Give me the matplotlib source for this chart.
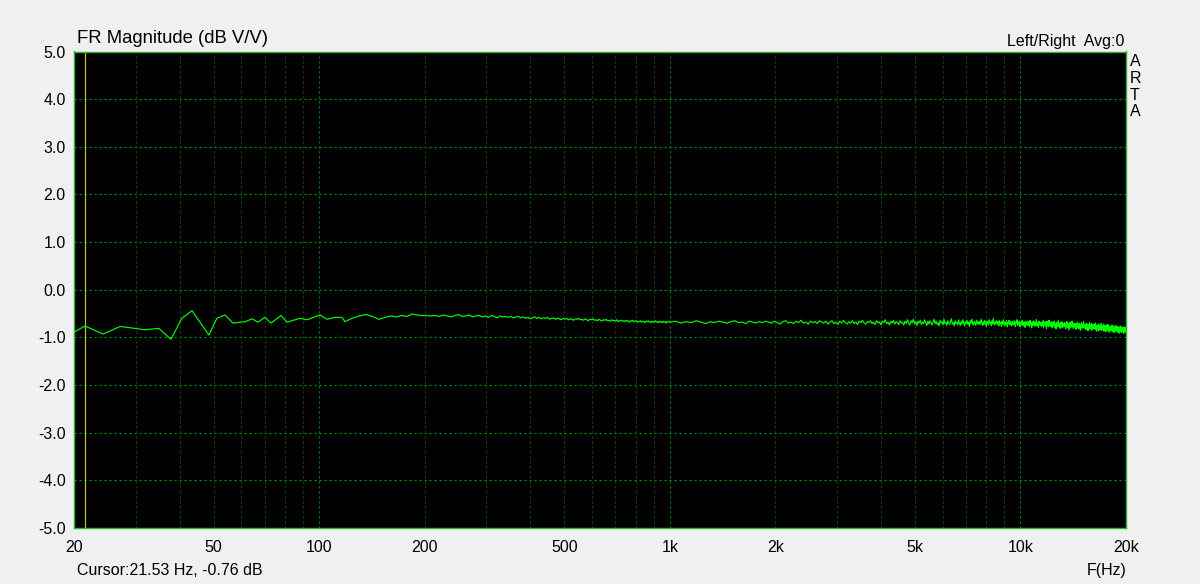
import numpy as np
import matplotlib
matplotlib.use("Agg")
import matplotlib.pyplot as plt
from matplotlib.ticker import FixedLocator, NullFormatter, FixedFormatter

# ---------------- data ----------------
# low-frequency part: individual readable points (Hz, dB)
lo_freq = [20.0, 21.5, 24.2, 27.1, 31.9, 34.9, 37.8, 40.6, 43.4, 48.5, 51.1, 53.9,
           56.8, 61.5, 64.4, 66.9, 70.1, 72.9, 77.9, 81.0, 88.2, 92.3, 100.6,
           105.3, 111.0, 116.2, 118.5, 124.1]
lo_db = [-0.89, -0.76, -0.93, -0.77, -0.84, -0.81, -1.04, -0.60, -0.44, -0.95,
         -0.60, -0.53, -0.70, -0.67, -0.61, -0.68, -0.58, -0.70, -0.54, -0.68,
         -0.60, -0.63, -0.53, -0.62, -0.58, -0.58, -0.67, -0.60]

# mid part: 130 Hz .. ~1 kHz, 6 Hz bins, values in 0.01 dB
mid_start, mid_step = 130.0, 6.0
mid_cdb = [-55, -52, -56, -62, -58, -55, -57, -54, -56, -51, -53, -54, -54, -55, -54,
           -56, -53, -55, -57, -54, -52, -56, -55, -53, -57, -55, -54, -57, -55, -58,
           -54, -56, -59, -55, -57, -56, -58, -56, -59, -57, -56, -59, -57, -60, -58,
           -61, -59, -57, -60, -58, -61, -59, -60, -58, -62, -60, -59, -62, -60, -61,
           -63, -60,
           -62, -60, -63, -61, -62, -64, -61, -62, -60, -63, -62, -64, -61, -63, -65,
           -62, -63, -61, -64, -63, -65, -62, -64, -66, -63, -64, -62, -65, -64, -66,
           -63, -65, -64, -66, -63, -67, -65, -64, -66, -65, -67, -64, -66, -65, -68,
           -65, -66, -64, -67, -66, -65, -68, -66, -67, -65, -68, -66, -67, -69, -66,
           -67, -65, -68, -67, -69, -66, -68, -67, -65, -68, -67, -69, -66, -68, -67,
           -69, -66, -68, -67, -70, -67, -68, -66]

# high part: 1 kHz .. 20 kHz, 38 Hz bins, values in 0.01 dB
hi_start, hi_step = 1000.0, 38.0
hi_cdb = [
    -68, -66, -70, -67, -69, -65, -68, -71, -67, -69, -66, -68, -70, -67, -65, -69, -68, -71, -66, -68, -70, -67, -69, -66, -68,
    -70, -66, -69, -72, -67, -65, -70, -68, -71, -66, -69, -64, -70, -68, -72, -66, -69, -67, -71, -65, -68, -70, -66, -72, -68,
    -65, -71, -68, -73, -66, -70, -64, -69, -72, -67, -70, -65, -71, -68, -73, -66, -69, -64, -70, -72, -67, -69, -65, -71, -68,
    -73, -65, -70, -67, -74, -66, -69, -63, -71, -68, -74, -66, -70, -64, -72, -67, -69, -73, -65, -70, -68, -74, -66, -71, -63,
    -70, -74, -65, -69, -62, -72, -67, -75, -66, -70, -64, -73, -68, -71, -63, -69, -75, -66, -72, -65, -70, -74, -67, -62, -71,
    -66, -73, -69, -76, -64, -70, -67, -74, -62, -71, -68, -75, -65, -70, -73, -66, -61, -72, -69, -76, -65, -71, -68, -74, -63,
    -70, -75, -66, -72, -63, -69, -76, -67, -71, -64, -73, -68, -77, -65, -70, -62, -72, -74, -66, -69, -75, -64, -71, -67, -73,
    -66, -72, -62, -70, -75, -67, -73, -64, -71, -77, -66, -69, -74, -63, -70, -68, -76, -65, -72, -60, -71, -74, -67, -70, -65,
    -73, -67, -76, -64, -71, -69, -77, -66, -72, -63, -70, -75, -68, -73, -65, -78, -69, -71, -64, -74, -67, -72, -76, -66, -70,
    -74, -65, -72, -78, -67, -70, -63, -75, -69, -73, -66, -77, -71, -68, -74, -64, -72, -76, -67, -70, -79, -66, -73, -69, -75,
    -66, -74, -70, -78, -64, -73, -69, -80, -67, -72, -75, -65, -71, -77, -68, -74, -63, -76, -70, -73, -79, -66, -72, -69, -75,
    -68, -77, -71, -74, -65, -79, -70, -73, -67, -76, -72, -81, -66, -74, -70, -78, -64, -73, -75, -69, -77, -71, -67, -80, -73,
    -70, -76, -66, -79, -73, -71, -82, -68, -75, -72, -78, -65, -74, -77, -70, -81, -69, -73, -76, -67, -80, -72, -75, -71, -78,
    -69, -77, -73, -82, -70, -76, -67, -79, -74, -72, -84, -71, -76, -68, -80, -75, -73, -78, -66, -77, -74, -81, -70, -76, -72,
    -79, -71, -77, -83, -73, -75, -68, -80, -76, -74, -82, -70, -78, -75, -85, -72, -77, -69, -81, -76, -73, -79, -67, -78, -75,
    -81, -72, -78, -75, -84, -70, -79, -76, -73, -86, -74, -80, -77, -69, -82, -75, -78, -73, -85, -71, -79, -76, -83, -74, -78,
    -73, -82, -77, -80, -70, -84, -76, -79, -87, -74, -81, -75, -78, -72, -86, -77, -80, -74, -83, -76, -79, -71, -85, -78, -81,
    -76, -84, -79, -72, -87, -78, -81, -75, -83, -80, -88, -74, -82, -77, -85, -79, -73, -84, -80, -78, -89, -76, -82, -79, -86,
    -77, -85, -80, -83, -74, -88, -79, -82, -76, -86, -81, -90, -78, -84, -80, -75, -87, -82, -79, -85, -77, -89, -81, -83, -78,
    -86, -80, -91, -79, -84, -82, -76, -88, -83, -81, -90, -78, -85, -82, -87, -79, -84, -92, -80, -83, -86, -78, -89, -82, -84,
]

cursor_freq = 21.53
cursor_db = -0.76

x_major = [100, 1000, 10000]
x_minor = [30, 40, 50, 60, 70, 80, 90, 200, 300, 400, 500, 600, 700, 800, 900,
           2000, 3000, 4000, 5000, 6000, 7000, 8000, 9000]
x_tick_vals = [20, 50, 100, 200, 500, 1000, 2000, 5000, 10000, 20000]
x_tick_labels = ["20", "50", "100", "200", "500", "1k", "2k", "5k", "10k", "20k"]
y_tick_vals = [5, 4, 3, 2, 1, 0, -1, -2, -3, -4, -5]
y_tick_labels = ["%.1f" % v for v in y_tick_vals]

# ---------------- assemble curve ----------------
mid_freq = mid_start + mid_step * np.arange(len(mid_cdb))
hi_freq = hi_start + hi_step * np.arange(len(hi_cdb))
freq = np.concatenate([np.array(lo_freq), mid_freq, hi_freq])
db = np.concatenate([np.array(lo_db), np.array(mid_cdb) / 100.0, np.array(hi_cdb) / 100.0])

# ---------------- figure ----------------
W, H = 1200, 584
plt.rcParams['font.family'] = ['Liberation Sans', 'DejaVu Sans']
fig = plt.figure(figsize=(W / 100, H / 100), dpi=100, facecolor='#f0f0f0')
L, R, T, B = 74, 1126, 51.5, 528
ax = fig.add_axes([L / W, 1 - B / H, (R - L) / W, (B - T) / H])
ax.set_facecolor('black')
ax.set_xscale('log')
ax.set_xlim(20, 20000)
ax.set_ylim(-5, 5)

for v in y_tick_vals[1:-1]:
    ax.axhline(v, color='#009000', lw=0.8, ls=(0, (2, 2.5)), zorder=1)
for v in x_minor:
    ax.axvline(v, color='#005200', lw=0.8, ls=(0, (2, 2.5)), zorder=1)
for v in x_major:
    ax.axvline(v, color='#008000', lw=0.8, ls=(0, (2, 2.5)), zorder=1)

ax.axvline(cursor_freq, color='#c8b440', lw=0.9, zorder=2)
ax.plot(freq, db, color='#00ff00', lw=0.85, zorder=3)

for s in ax.spines.values():
    s.set_color('#30b030')
    s.set_linewidth(1.0)

ax.xaxis.set_major_locator(FixedLocator(x_tick_vals))
ax.xaxis.set_major_formatter(FixedFormatter(x_tick_labels))
ax.xaxis.set_minor_locator(FixedLocator([]))
ax.xaxis.set_minor_formatter(NullFormatter())
ax.yaxis.set_major_locator(FixedLocator(y_tick_vals))
ax.yaxis.set_major_formatter(FixedFormatter(y_tick_labels))
ax.tick_params(axis='both', length=0, labelsize=11.5, colors='black')
ax.tick_params(axis='x', pad=9)
ax.tick_params(axis='y', pad=6)


def ftext(x, y, s, **kw):
    fig.text(x / W, 1 - y / H, s, **kw)


ftext(77, 43, "FR Magnitude (dB V/V)", fontsize=13.3, va='baseline', ha='left')
ftext(1124, 46, "Left/Right  Avg:0", fontsize=11.5, va='baseline', ha='right')
for i, ch in enumerate("ARTA"):
    ftext(1130, 66 + i * 16.8, ch, fontsize=11.5, va='baseline', ha='left')
ftext(77, 575, "Cursor:%.2f Hz, %.2f dB" % (cursor_freq, cursor_db), fontsize=11.5,
      va='baseline', ha='left')
ftext(1087, 575, "F(Hz)", fontsize=11.5, va='baseline', ha='left')

fig.savefig("out.png", dpi=100, facecolor=fig.get_facecolor())
